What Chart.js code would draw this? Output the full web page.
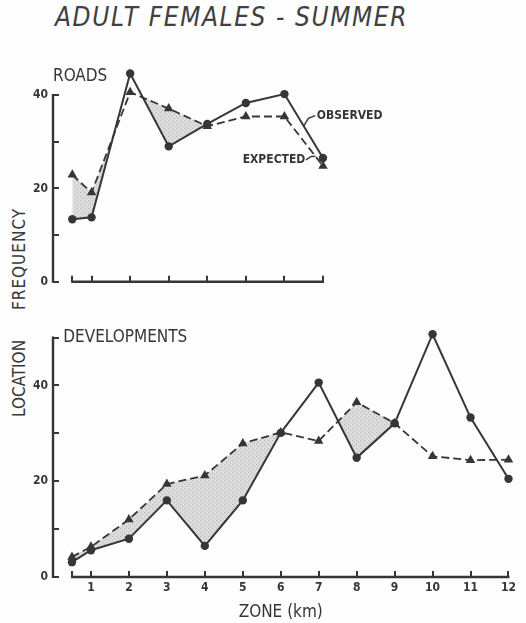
<!DOCTYPE html>
<html lang="en">
<head>
<meta charset="UTF-8">
<title>Adult Females - Summer</title>
<script src="https://cdn.jsdelivr.net/npm/chart.js"></script>
<style>
  body { margin: 0; width: 526px; height: 623px; position: relative; overflow: hidden; background: #fdfdfd;
         font-family: "DejaVu Sans Condensed", "DejaVu Sans", sans-serif; color: #383838; }
  .title { position: absolute; left: 55px; top: 2px; font-size: 26px; font-style: italic; letter-spacing: 1.6px; color: #404040; }
  .ytitle { position: absolute; left: 9px; font-size: 17px; line-height: 20px; white-space: nowrap;
            transform-origin: left top; transform: rotate(-90deg); }
  .box { position: absolute; left: 0; width: 526px; }
</style>
</head>
<body>
  <div class="title">ADULT FEMALES - SUMMER</div>
  <div class="ytitle" style="top:310px;letter-spacing:1px">FREQUENCY</div>
  <div class="ytitle" style="top:417px">LOCATION</div>
  <div class="box" style="top:0;height:300px"><canvas id="roads"></canvas></div>
  <div class="box" style="top:300px;height:323px"><canvas id="developments"></canvas></div>

<script>
// zones (km) - first point sits at half a kilometre
const roadZones = [0.5, 1, 2, 3, 4, 5, 6, 7];
const devZones = [0.5, 1, 2, 3, 4, 5, 6, 7, 8, 9, 10, 11, 12];

const roadsObserved = [13.4, 13.8, 44.6, 29.0, 33.8, 38.3, 40.2, 26.5];
const roadsExpected = [22.9, 19.1, 40.6, 37.1, 33.3, 35.4, 35.4, 24.8];
const devObserved = [3.1, 5.6, 8.0, 16.0, 6.5, 16.0, 30.1, 40.6, 24.9, 32.1, 50.7, 33.3, 20.5];
const devExpected = [4.2, 6.3, 12.0, 19.4, 21.2, 27.9, 30.2, 28.4, 36.5, 32.1, 25.2, 24.4, 24.5];

const roadYTicks = [0, 10, 20, 30, 40];
const devYTicks = [0, 10, 20, 30, 40, 50];
const yTickLabels = [0, 20, 40];
const xTickLabels = [1, 2, 3, 4, 5, 6, 7, 8, 9, 10, 11, 12];

const ink = '#363636';
const fontFamily = '"DejaVu Sans Condensed", "DejaVu Sans", sans-serif';
Chart.defaults.font.family = fontFamily;
Chart.defaults.color = ink;

function toPoints(xs, ys) {
  return ys.map((y, i) => ({ x: xs[i], y: y }));
}

// light stippled grey like the original shading
function stipple() {
  const c = document.createElement('canvas');
  c.width = 4; c.height = 4;
  const g = c.getContext('2d');
  g.fillStyle = '#dcdcdc';
  g.fillRect(0, 0, 4, 4);
  g.fillStyle = '#b4b4b4';
  g.fillRect(0, 0, 1, 1);
  g.fillRect(2, 2, 1, 1);
  return g.createPattern(c, 'repeat');
}

// axis lines that stop where the original stops + the text notes
const decorations = {
  id: 'decorations',
  beforeDatasetsDraw(chart, args, opts) {
    const { ctx, scales: { x, y } } = chart;
    const y0 = y.getPixelForValue(0);
    ctx.save();
    ctx.strokeStyle = ink;
    ctx.lineWidth = 2.4;
    ctx.beginPath();
    ctx.moveTo(x.getPixelForValue(opts.xStart) - 1, y0);
    ctx.lineTo(x.getPixelForValue(opts.xEnd) + 1, y0);
    ctx.moveTo(x.left, y0 + 1);
    ctx.lineTo(x.left, y.getPixelForValue(opts.yTop) - 1);
    ctx.stroke();
    ctx.restore();
  },
  afterDatasetsDraw(chart, args, opts) {
    const { ctx, scales: { x, y } } = chart;
    ctx.save();
    ctx.fillStyle = ink;
    ctx.strokeStyle = ink;
    ctx.lineWidth = 1.4;
    ctx.textBaseline = 'middle';
    opts.notes.forEach(n => {
      ctx.font = (n.bold ? 'bold ' : '') + n.size + 'px ' + fontFamily;
      ctx.textAlign = n.align;
      ctx.fillText(n.text, x.getPixelForValue(n.x), y.getPixelForValue(n.y));
      if (n.leader) {
        ctx.beginPath();
        n.leader.forEach((p, i) => {
          const px = x.getPixelForValue(p[0]), py = y.getPixelForValue(p[1]);
          if (i === 0) ctx.moveTo(px, py); else ctx.lineTo(px, py);
        });
        ctx.stroke();
      }
    });
    ctx.restore();
  }
};

function makeChart(id, cfg) {
  return new Chart(document.getElementById(id), {
    type: 'line',
    data: {
      datasets: [{
        label: 'OBSERVED',
        data: toPoints(cfg.zones, cfg.observed),
        borderColor: ink,
        borderWidth: 2,
        backgroundColor: ink,
        pointStyle: 'circle',
        pointRadius: 4.2,
        pointBorderWidth: 0,
        tension: 0,
        fill: false,
        clip: false
      }, {
        label: 'EXPECTED',
        data: toPoints(cfg.zones, cfg.expected),
        borderColor: ink,
        borderWidth: 1.8,
        borderDash: [8, 4],
        backgroundColor: ink,
        pointStyle: 'triangle',
        pointRadius: 5.5,
        pointBorderWidth: 0,
        tension: 0,
        fill: false,
        clip: false
      }, {
        // shading where expected lies above observed
        label: 'shade',
        data: toPoints(cfg.zones, cfg.expected.slice(0, cfg.shadeCount)),
        borderWidth: 0,
        borderColor: 'rgba(0,0,0,0)',
        pointRadius: 0,
        tension: 0,
        fill: { target: 0, above: stipple(), below: 'rgba(0,0,0,0)' },
        clip: false
      }]
    },
    options: {
      responsive: true,
      maintainAspectRatio: false,
      animation: false,
      events: [],
      layout: { padding: { top: cfg.padTop, right: cfg.padRight, left: 0, bottom: 0 } },
      plugins: {
        legend: { display: false },
        tooltip: { enabled: false },
        decorations: { xStart: cfg.zones[0], xEnd: cfg.xMax, yTop: cfg.yTicks[cfg.yTicks.length - 1], notes: cfg.notes }
      },
      scales: {
        x: {
          type: 'linear',
          min: 0,
          max: cfg.xMax,
          afterBuildTicks: s => { s.ticks = cfg.zones.map(v => ({ value: v })); },
          afterFit: s => { s.height = cfg.xHeight; },
          grid: { drawOnChartArea: false, tickLength: -6, color: ink, lineWidth: 2 },
          border: { display: false },
          ticks: {
            autoSkip: false, maxRotation: 0, padding: 10,
            font: { size: 12, weight: 'bold' }, color: ink,
            callback: v => (cfg.showX && xTickLabels.includes(v)) ? String(v) : ''
          },
          title: cfg.showX
            ? { display: true, text: 'ZONE (km)', font: { size: 17 }, color: ink, padding: { top: 0, bottom: 0 } }
            : { display: false }
        },
        y: {
          type: 'linear',
          min: 0,
          max: cfg.yMax,
          afterBuildTicks: s => { s.ticks = cfg.yTicks.map(v => ({ value: v })); },
          afterFit: s => { s.width = 53; },
          grid: { drawOnChartArea: false, tickLength: -6, color: ink, lineWidth: 2 },
          border: { display: false },
          ticks: {
            padding: 11, font: { size: 12, weight: 'bold' }, color: ink,
            callback: v => yTickLabels.includes(v) ? String(v) : ''
          }
        }
      }
    },
    plugins: [decorations]
  });
}

makeChart('roads', {
  zones: roadZones, observed: roadsObserved, expected: roadsExpected, shadeCount: roadZones.length,
  xMax: 7, yMax: 46, yTicks: roadYTicks, padTop: 67, padRight: 203, xHeight: 11, showX: false,
  notes: [
    { text: 'ROADS', x: 0, y: 43.9, align: 'left', size: 17 },
    { text: 'OBSERVED', x: 6.84, y: 35.6, align: 'left', size: 12, bold: true, leader: [[6.5, 33.35], [6.62, 35.0], [6.8, 35.6]] },
    { text: 'EXPECTED', x: 6.54, y: 26.1, align: 'right', size: 12, bold: true, leader: [[6.56, 26.1], [6.68, 26.8], [6.8, 26.9]] }
  ]
});

makeChart('developments', {
  zones: devZones, observed: devObserved, expected: devExpected, shadeCount: devZones.length - 1,
  xMax: 12, yMax: 52, yTicks: devYTicks, padTop: 28, padRight: 10, xHeight: 46, showX: true,
  notes: [
    { text: 'DEVELOPMENTS', x: 0.27, y: 50, align: 'left', size: 17 }
  ]
});
</script>
</body>
</html>
